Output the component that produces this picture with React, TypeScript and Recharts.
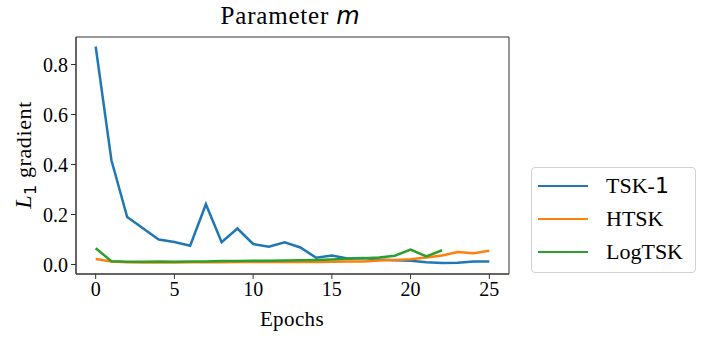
import React from 'react';
import { LineChart, Line, XAxis, YAxis, ReferenceArea } from 'recharts';

const epochs = [0, 1, 2, 3, 4, 5, 6, 7, 8, 9, 10, 11, 12, 13, 14, 15, 16, 17, 18, 19, 20, 21, 22, 23, 24, 25];

const tsk1 = [0.872, 0.417, 0.19, 0.145, 0.1, 0.09, 0.075, 0.241, 0.089, 0.144, 0.082, 0.071, 0.089, 0.068, 0.027, 0.036, 0.024, 0.026, 0.02, 0.017, 0.015, 0.009, 0.006, 0.007, 0.012, 0.012];
const htsk = [0.022, 0.012, 0.009, 0.008, 0.008, 0.008, 0.009, 0.009, 0.009, 0.01, 0.01, 0.01, 0.01, 0.01, 0.01, 0.011, 0.012, 0.012, 0.016, 0.018, 0.021, 0.028, 0.036, 0.05, 0.045, 0.055];
const logtsk = [0.065, 0.013, 0.011, 0.011, 0.012, 0.011, 0.012, 0.012, 0.014, 0.014, 0.015, 0.015, 0.016, 0.017, 0.018, 0.02, 0.023, 0.025, 0.028, 0.035, 0.06, 0.032, 0.057];

const xTicks = [0, 5, 10, 15, 20, 25];
const yTicks = [0, 0.2, 0.4, 0.6, 0.8];

const series = [
  { key: 'tsk1', name: 'TSK-', suffix: '1', color: '#1f77b4' },
  { key: 'htsk', name: 'HTSK', suffix: '', color: '#ff7f0e' },
  { key: 'logtsk', name: 'LogTSK', suffix: '', color: '#2ca02c' },
];

const data = epochs.map((e, i) => ({
  epoch: e,
  tsk1: tsk1[i],
  htsk: htsk[i],
  logtsk: i < logtsk.length ? logtsk[i] : undefined,
}));

const serif = '"Liberation Serif", "Times New Roman", serif';
const sans = '"DejaVu Sans", sans-serif';

const YLabel = () => (
  <text transform="translate(31, 155) rotate(-90)" textAnchor="middle" fontFamily={serif} fontSize={22} letterSpacing={0.6} fill="#000">
    <tspan fontStyle="italic" fontSize={24}>L</tspan>
    <tspan fontFamily={sans} fontSize={16} dy={5}>1</tspan>
    <tspan dy={-5}> gradient</tspan>
  </text>
);

const XLabel = () => (
  <text x={292} y={326} textAnchor="middle" fontFamily={serif} fontSize={21} letterSpacing={0.4} fill="#000">Epochs</text>
);

export default function App() {
  return (
    <div style={{ position: 'absolute', left: 0, top: 0, width: 706, height: 340, background: '#fff' }}>
      <div style={{ position: 'absolute', left: 0, width: 581, top: 2, textAlign: 'center', fontFamily: serif, fontSize: 25, letterSpacing: 0.8, color: '#000' }}>
        <span>Parameter </span>
        <span style={{ fontFamily: sans, fontStyle: 'italic', fontSize: 24 }}>m</span>
      </div>
      <LineChart width={706} height={340} data={data} margin={{ top: 37, right: 197, bottom: 36, left: 36 }}>
        <XAxis
          dataKey="epoch"
          type="number"
          domain={[-1.25, 26.25]}
          ticks={xTicks}
          allowDataOverflow
          height={30}
          tickSize={5}
          tickMargin={3}
          axisLine={{ stroke: '#333' }}
          tickLine={{ stroke: '#333' }}
          tick={{ fill: '#000', fontSize: 20, fontFamily: serif }}
          label={<XLabel />}
        />
        <YAxis
          type="number"
          domain={[-0.038, 0.91]}
          ticks={yTicks}
          allowDataOverflow
          width={40}
          tickSize={5}
          tickMargin={3}
          axisLine={{ stroke: '#333' }}
          tickLine={{ stroke: '#333' }}
          tick={{ fill: '#000', fontSize: 20, fontFamily: serif }}
          tickFormatter={(v: number) => v.toFixed(1)}
          label={<YLabel />}
        />
        <ReferenceArea x1={-1.25} x2={26.25} y1={-0.038} y2={0.91} fill="none" stroke="#333" strokeWidth={1} ifOverflow="visible" />
        {series.map((s) => (
          <Line
            key={s.key}
            dataKey={s.key}
            type="linear"
            stroke={s.color}
            strokeWidth={2.5}
            dot={false}
            activeDot={false}
            connectNulls={false}
            isAnimationActive={false}
          />
        ))}
      </LineChart>
      <div style={{ position: 'absolute', left: 531, top: 167, width: 165, height: 106, border: '1px solid #d0d0d0', borderRadius: 4, boxSizing: 'border-box' }}>
        {series.map((s, i) => (
          <div key={s.key} style={{ position: 'absolute', left: 6, top: 4 + i * 33, height: 28, display: 'flex', alignItems: 'center' }}>
            <div style={{ width: 50, height: 2.5, background: s.color }} />
            <span style={{ marginLeft: 18, fontFamily: serif, fontSize: 22, color: '#000', lineHeight: '28px' }}>
              {s.name}
              {s.suffix && <span style={{ fontFamily: sans }}>{s.suffix}</span>}
            </span>
          </div>
        ))}
      </div>
    </div>
  );
}
